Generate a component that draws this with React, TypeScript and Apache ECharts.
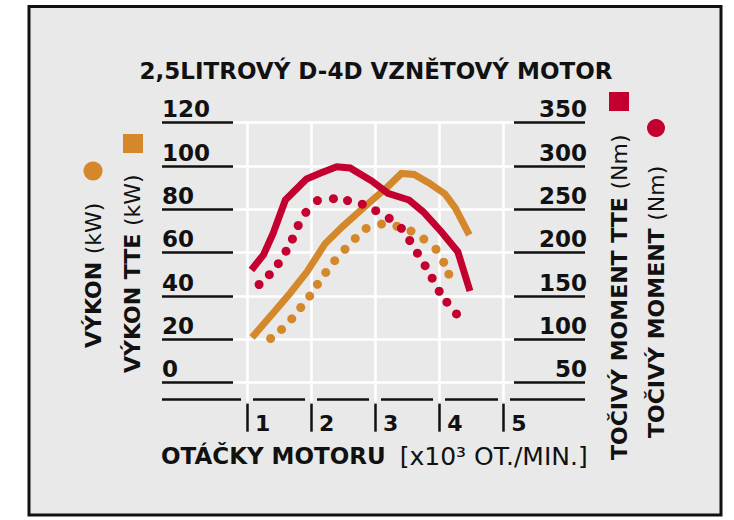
import React, { useEffect, useRef } from "react";
import * as echarts from "echarts";

// ---- data ----
const xTicks = [1, 2, 3, 4, 5];
const leftTicks = [0, 20, 40, 60, 80, 100, 120];
const rightTicks = [50, 100, 150, 200, 250, 300, 350];

// VÝKON TTE (kW) – solid orange
const rpmVykonTTE = [1.08, 1.41, 1.67, 1.94, 2.22, 2.5, 2.92, 3.19, 3.41, 3.61, 3.84, 4.09, 4.25, 4.47];
const vykonTTE = [20.9, 32.2, 41.2, 51.3, 64.2, 72.3, 83.4, 90.3, 96.6, 96.1, 92.2, 87.1, 80.7, 68.2];

// VÝKON (kW) – dotted orange
const rpmVykon = [1.37, 1.54, 1.7, 1.84, 1.98, 2.1, 2.23, 2.37, 2.53, 2.69, 2.86, 3.1, 3.34, 3.56, 3.76, 3.95, 4.07, 4.15];
const vykon = [20.4, 24.6, 29.5, 34.7, 40.0, 45.4, 50.9, 56.3, 61.6, 66.6, 71.2, 73.2, 72.2, 70.0, 66.3, 61.6, 55.6, 50.1];

// TOČIVÝ MOMENT TTE (Nm) – solid red
const rpmMomentTTE = [1.07, 1.26, 1.41, 1.6, 1.93, 2.14, 2.4, 2.61, 2.95, 3.2, 3.53, 3.75, 4.03, 4.29, 4.48];
const momentTTE = [180.0, 197.7, 222.4, 260.8, 285.0, 291.6, 299.2, 297.7, 282.7, 268.5, 260.8, 247.3, 224.5, 201.2, 155.8];

// TOČIVÝ MOMENT (Nm) – dotted red
const rpmMoment = [1.19, 1.35, 1.49, 1.61, 1.71, 1.8, 1.92, 2.1, 2.35, 2.57, 2.8, 3.01, 3.22, 3.41, 3.54, 3.66, 3.78, 3.89, 4.0, 4.12, 4.27];
const moment = [163.3, 174.6, 187.3, 201.7, 215.8, 231.4, 246.6, 260.2, 262.3, 260.2, 256.0, 248.5, 239.7, 228.1, 214.1, 199.4, 185.0, 170.6, 155.5, 142.9, 129.3];

const TITLE = "2,5LITROVÝ D-4D VZNĚTOVÝ MOTOR";
const X_NAME_BOLD = "OTÁČKY MOTORU";
const X_NAME_REG = "[x10³ OT./MIN.]";

const ORANGE = "#d4882b";
const RED = "#c3002f";
const BG = "#e9e9e9";
const INK = "#111111";
const FONT = "DejaVu Sans";

const pairs = (xs: number[], ys: number[]) => xs.map((x, i) => [x, ys[i]]);

export default function App() {
  const ref = useRef<HTMLDivElement>(null);
  useEffect(() => {
    if (!ref.current) return;
    const chart = echarts.init(ref.current, null, { renderer: "svg" });

    const rotText = (x: number, y: number, bold: string, reg: string) => ({
      type: "text",
      x,
      y,
      rotation: Math.PI / 2,
      style: {
        text: `{b|${bold} }{n|${reg}}`,
        align: "left",
        verticalAlign: "middle",
        rich: {
          b: { fontFamily: FONT, fontWeight: "bold", fontSize: 22, fill: INK },
          n: { fontFamily: FONT, fontWeight: "normal", fontSize: 22, fill: INK },
        },
      },
    });

    const option: any = {
      animation: false,
      backgroundColor: "#ffffff",
      grid: {
        left: 233,
        right: 220,
        top: 122.7,
        bottom: 137.3,
        containLabel: false,
        outerBoundsMode: "none",
      },
      xAxis: [
        {
          type: "value",
          min: 0.783,
          max: 5.167,
          position: "bottom",
          axisLine: { show: false, onZero: false },
          axisTick: {
            show: true,
            customValues: xTicks,
            inside: false,
            length: 19,
            lineStyle: { color: "#ffffff", width: 2.5 },
          },
          axisLabel: { show: false, customValues: xTicks },
          splitLine: { show: true, lineStyle: { color: "#ffffff", width: 2.5 } },
        },
        {
          type: "value",
          min: 0.783,
          max: 5.167,
          position: "bottom",
          z: -1,
          axisLine: { show: false, onZero: false },
          axisTick: {
            show: true,
            customValues: xTicks,
            inside: false,
            length: 21,
            lineStyle: { color: BG, width: 12 },
          },
          axisLabel: { show: false, customValues: xTicks },
          splitLine: { show: false },
        },
        {
          type: "value",
          min: 0.783,
          max: 5.167,
          position: "bottom",
          offset: 21,
          axisLine: { show: false, onZero: false },
          axisTick: {
            show: true,
            customValues: xTicks,
            inside: false,
            length: 28,
            lineStyle: { color: INK, width: 2.5 },
          },
          axisLabel: {
            show: true,
            customValues: xTicks,
            align: "left",
            margin: 9,
            padding: [0, 0, 0, 8],
            fontFamily: FONT,
            fontWeight: "bold",
            fontSize: 22,
            color: INK,
            formatter: (v: number) => String(v),
          },
          splitLine: { show: false },
        },
      ],
      yAxis: [
        {
          type: "value",
          position: "left",
          min: leftTicks[0],
          max: leftTicks[leftTicks.length - 1],
          interval: 20,
          axisLine: { show: false },
          axisTick: { show: true, inside: false, length: 71, lineStyle: { color: INK, width: 2.5 } },
          axisLabel: {
            show: true,
            align: "left",
            verticalAlign: "bottom",
            margin: 71,
            padding: [0, 0, 2, 0],
            fontFamily: FONT,
            fontWeight: "bold",
            fontSize: 23,
            color: INK,
          },
          splitLine: { show: true, lineStyle: { color: "#ffffff", width: 2.5 } },
        },
        {
          type: "value",
          position: "right",
          min: rightTicks[0],
          max: rightTicks[rightTicks.length - 1],
          interval: 50,
          axisLine: { show: false },
          axisTick: { show: true, inside: false, length: 71, lineStyle: { color: INK, width: 2.5 } },
          axisLabel: {
            show: true,
            align: "right",
            verticalAlign: "bottom",
            margin: 73,
            padding: [0, 0, 2, 0],
            fontFamily: FONT,
            fontWeight: "bold",
            fontSize: 23,
            color: INK,
          },
          splitLine: { show: false },
        },
      ],
      series: [
        {
          name: "VÝKON (kW)",
          type: "line",
          xAxisIndex: 0,
          yAxisIndex: 0,
          data: pairs(rpmVykon, vykon),
          symbol: "circle",
          symbolSize: 9,
          showSymbol: true,
          itemStyle: { color: ORANGE },
          lineStyle: { width: 0, opacity: 0 },
          silent: true,
          z: 2,
        },
        {
          name: "VÝKON TTE (kW)",
          type: "line",
          xAxisIndex: 0,
          yAxisIndex: 0,
          data: pairs(rpmVykonTTE, vykonTTE),
          symbol: "none",
          lineStyle: { color: ORANGE, width: 7, cap: "butt", join: "miter" },
          silent: true,
          z: 3,
        },
        {
          name: "TOČIVÝ MOMENT (Nm)",
          type: "line",
          xAxisIndex: 0,
          yAxisIndex: 1,
          data: pairs(rpmMoment, moment),
          symbol: "circle",
          symbolSize: 9,
          showSymbol: true,
          itemStyle: { color: RED },
          lineStyle: { width: 0, opacity: 0 },
          silent: true,
          z: 4,
        },
        {
          name: "TOČIVÝ MOMENT TTE (Nm)",
          type: "line",
          xAxisIndex: 0,
          yAxisIndex: 1,
          data: pairs(rpmMomentTTE, momentTTE),
          symbol: "none",
          lineStyle: { color: RED, width: 7, cap: "butt", join: "miter" },
          silent: true,
          z: 5,
        },
      ],
      graphic: [
        {
          type: "rect",
          z: -10,
          shape: { x: 29, y: 6.5, width: 692, height: 508.5 },
          style: { fill: BG, stroke: INK, lineWidth: 3 },
          silent: true,
        },
        {
          type: "line",
          z: -5,
          shape: { x1: 162, y1: 399.5, x2: 585, y2: 399.5 },
          style: { stroke: INK, lineWidth: 2.5 },
          silent: true,
        },
        {
          type: "text",
          x: 376,
          y: 71,
          style: {
            text: TITLE,
            align: "center",
            verticalAlign: "middle",
            fontFamily: FONT,
            fontWeight: "bold",
            fontSize: 23,
            fill: INK,
          },
        },
        {
          type: "text",
          x: 161,
          y: 456,
          style: {
            text: `{b|${X_NAME_BOLD} }{n|${X_NAME_REG}}`,
            align: "left",
            verticalAlign: "middle",
            rich: {
              b: { fontFamily: FONT, fontWeight: "bold", fontSize: 23, fill: INK },
              n: { fontFamily: FONT, fontWeight: "normal", fontSize: 25, fill: INK, padding: [0, 0, 0, 6] },
            },
          },
        },
        rotText(93, 348, "VÝKON", "(kW)"),
        rotText(132, 373, "VÝKON TTE", "(kW)"),
        rotText(619, 460, "TOČIVÝ MOMENT TTE", "(Nm)"),
        rotText(656, 438, "TOČIVÝ MOMENT", "(Nm)"),
        { type: "circle", shape: { cx: 93, cy: 171, r: 9.5 }, style: { fill: ORANGE } },
        { type: "rect", shape: { x: 123, y: 134, width: 20, height: 19 }, style: { fill: ORANGE } },
        { type: "rect", shape: { x: 609, y: 92, width: 20, height: 19 }, style: { fill: RED } },
        { type: "circle", shape: { cx: 656, cy: 128, r: 9 }, style: { fill: RED } },
      ],
    };

    chart.setOption(option);
    return () => chart.dispose();
  }, []);

  return (
    <div
      ref={ref}
      style={{ position: "absolute", left: 0, top: 0, width: 734, height: 520 }}
    />
  );
}
